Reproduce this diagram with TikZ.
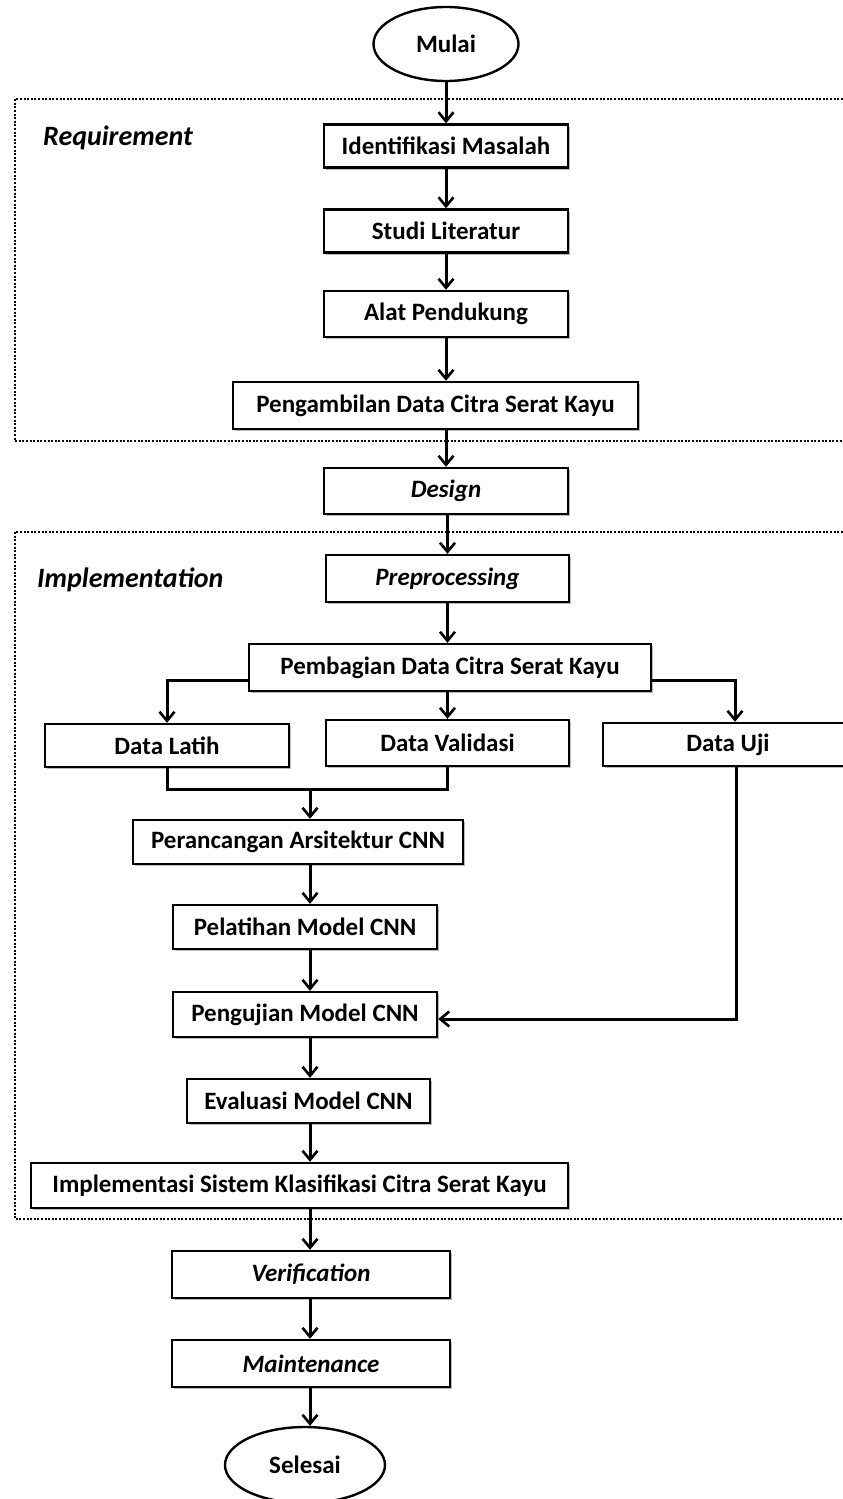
\documentclass[tikz,border=0pt]{standalone}
\usepackage{fontspec}
\setmainfont{Carlito}
\usetikzlibrary{arrows.meta,shadows,shapes.geometric}

\tikzset{
  box/.style={draw, line width=2.4pt, fill=white, inner sep=1pt,
    font=\fontsize{25}{29}\selectfont\bfseries,
    drop shadow={shadow xshift=2pt, shadow yshift=-2pt, fill=black!45, opacity=0.6}},
  term/.style={draw, ellipse, line width=2.4pt, fill=white, inner sep=1pt,
    font=\fontsize{25}{29}\selectfont\bfseries},
  arr/.style={line width=3pt, -{Straight Barb[length=9pt,width=15pt,line width=2.6pt]}},
  link/.style={line width=3pt},
  frame/.style={line width=2pt, dash pattern=on 2pt off 1.6pt},
  phase/.style={font=\fontsize{28}{32}\selectfont\bfseries\itshape, anchor=west, inner sep=0pt}
}

\begin{document}
\begin{tikzpicture}[x=1pt,y=-1pt]
\useasboundingbox (0,0) rectangle (843,1499);
\clip (0,0) rectangle (843,1499);

% phase frames
\draw[frame] (850,99) -- (15,99) -- (15,441) -- (850,441);
\draw[frame] (850,532) -- (15,532) -- (15,1219) -- (850,1219);
\node[phase] (req) at (43,138) {Requirement};
\node[phase] (impl) at (37,580) {Implementation};

% column of the lower arrows
\coordinate (col) at (310,0);

% nodes
\node[term, minimum width=145pt, minimum height=74pt] (start) at (446,44) {Mulai};
\node[box, minimum width=244pt, minimum height=43pt] (ident) at (446,146) {Identifikasi Masalah};
\node[box, minimum width=244pt, minimum height=43pt] (studi) at (446,231) {Studi Literatur};
\node[box, minimum width=244pt, minimum height=46pt] (alat) at (446,314) {Alat Pendukung};
\node[box, minimum width=405pt, minimum height=47pt] (ambil) at (435.5,405.5) {Pengambilan Data Citra Serat Kayu};
\node[box, minimum width=244pt, minimum height=46pt] (design) at (446,491) {\itshape Design};
\node[box, minimum width=243pt, minimum height=47pt] (prep) at (447.5,578.5) {\itshape Preprocessing};
\node[box, minimum width=402pt, minimum height=47pt] (bagi) at (450,667.5) {Pembagian Data Citra Serat Kayu};
\node[box, minimum width=244pt, minimum height=43pt] (latih) at (167,745.5) {Data Latih};
\node[box, minimum width=243pt, minimum height=46pt] (valid) at (447.5,743) {Data Validasi};
\node[box, minimum width=250pt, minimum height=43pt] (uji) at (728,744.5) {Data Uji};
\node[box, minimum width=330pt, minimum height=44pt] (rancang) at (298,842) {Perancangan Arsitektur CNN};
\node[box, minimum width=264pt, minimum height=44pt] (latihm) at (305,927) {Pelatihan Model CNN};
\node[box, minimum width=264pt, minimum height=45pt] (uji m) at (305,1014.5) {Pengujian Model CNN};
\node[box, minimum width=243pt, minimum height=44pt] (eval) at (308.5,1101) {Evaluasi Model CNN};
\node[box, minimum width=537pt, minimum height=45pt] (impls) at (299.5,1185.5) {Implementasi Sistem Klasifikasi Citra Serat Kayu};
\node[box, minimum width=278pt, minimum height=47pt] (verif) at (311,1274.5) {\itshape Verification};
\node[box, minimum width=278pt, minimum height=47pt] (maint) at (311,1363.5) {\itshape Maintenance};
\node[term, minimum width=160pt, minimum height=76pt] (end) at (305,1465) {Selesai};

% upper chain
\draw[arr] (start) -- (ident);
\draw[arr] (ident) -- (studi);
\draw[arr] (studi) -- (alat);
\draw[arr] (alat) -- (alat |- ambil.north);
\draw[arr] (design |- ambil.south) -- (design);
\draw[arr] (design.south -| prep) -- (prep);
\draw[arr] (prep) -- (prep |- bagi.north);

% split into the three data sets
\draw[arr] (bagi.west |- 0,680) -| (latih);
\draw[arr] (bagi.south -| valid) -- (valid);
\draw[arr] (bagi.east |- 0,680) -| (735,0 |- uji.north);

% training and validation data join
\coordinate (join) at (col |- 0,789);
\draw[link] (latih) |- (join);
\draw[link] (valid) |- (join);
\draw[arr] (join) -- (col |- rancang.north);

% lower chain
\draw[arr] (rancang.south -| col) -- (latihm.north -| col);
\draw[arr] (latihm.south -| col) -- (uji m.north -| col);
\draw[arr] (uji m.south -| col) -- (eval.north -| col);
\draw[arr] (eval.south -| col) -- (impls.north -| col);
\draw[arr] (impls.south -| col) -- (verif.north -| col);
\draw[arr] (verif.south -| col) -- (maint.north -| col);
\draw[arr] (maint.south -| col) -- (end.north -| col);

% test data feeds the testing step
\draw[arr] (736,0 |- uji.south) |- (uji m.east |- 0,1019);
\end{tikzpicture}
\end{document}
